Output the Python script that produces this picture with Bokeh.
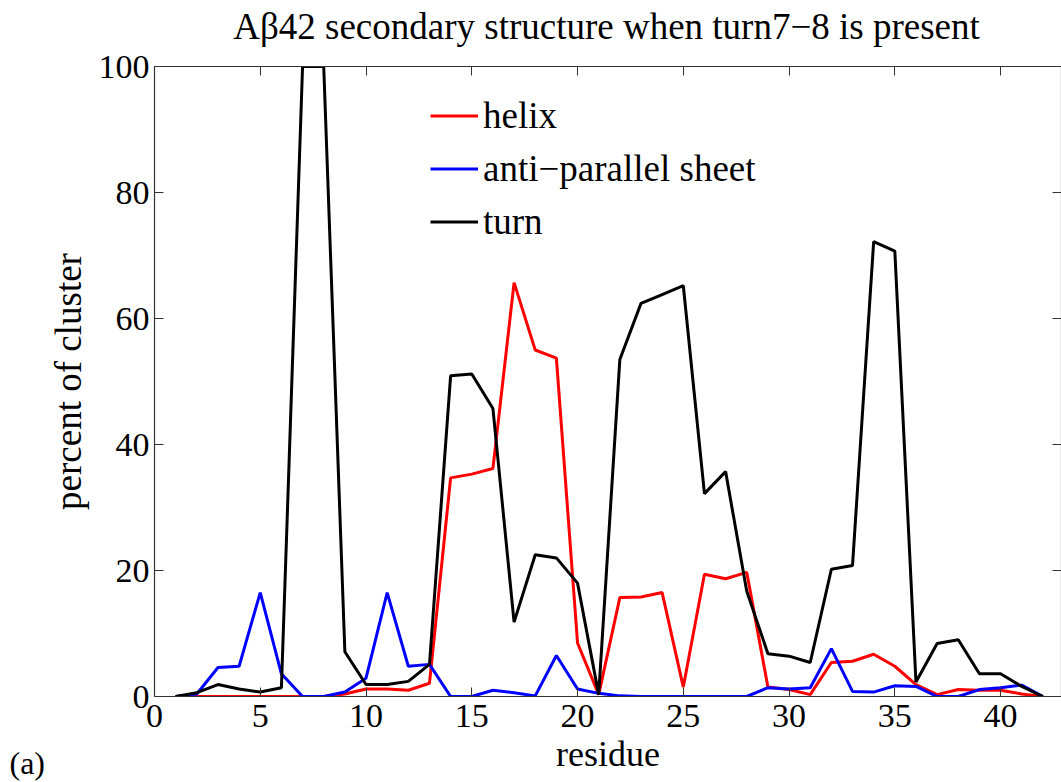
from bokeh.plotting import figure
from bokeh.models import LinearAxis, Legend, LegendItem, Label, Range1d, FixedTicker, CustomLabelingPolicy
from bokeh.embed import file_html
from bokeh.resources import INLINE

residue = list(range(1, 43))
helix = [0, 0, 0, 0, 0, 0, 0, 0, 0.4, 1.2, 1.2, 1.0, 2.1, 34.7, 35.3, 36.2, 65.7, 55.0, 53.7, 8.5,
         0.3, 15.7, 15.8, 16.5, 1.5, 19.4, 18.7, 19.7, 1.5, 1.1, 0.3, 5.4, 5.6, 6.7, 4.8, 1.9,
         0.3, 1.1, 1.0, 1.0, 0.4, 0]
sheet = [0, 0.4, 4.6, 4.8, 16.5, 3.6, 0, 0, 0.7, 2.9, 16.5, 4.8, 5.1, 0, 0, 1.0, 0.6, 0.1, 6.5, 1.2,
         0.5, 0.1, 0, 0, 0, 0, 0, 0, 1.4, 1.2, 1.4, 7.6, 0.8, 0.7, 1.7, 1.6,
         0, 0, 1.1, 1.4, 1.8, 0]
turn = [0, 0.6, 1.9, 1.2, 0.7, 1.4, 100, 100, 7.1, 1.9, 1.9, 2.4, 5.1, 50.9, 51.2, 45.7, 11.8, 22.5, 22.0, 18.0,
        0.3, 53.5, 62.4, 63.8, 65.2, 32.2, 35.7, 16.7, 6.8, 6.4, 5.4, 20.2, 20.8, 72.2, 70.7, 2.3,
        8.4, 9.0, 3.6, 3.6, 1.6, 0]
series_names = ["helix", "anti\u2212parallel sheet", "turn"]
series_colors = ["#ff0000", "#0000ff", "#000000"]
x_ticks = [0, 5, 10, 15, 20, 25, 30, 35, 40]
y_ticks = [0, 20, 40, 60, 80, 100]
title_text = "A\u03b242 secondary structure when turn7\u22128 is present"

FONT = "Liberation Serif"
AX = "#333333"

p = figure(width=1061, height=782, output_backend="svg", toolbar_location=None,
           x_range=Range1d(0, 42.88), y_range=Range1d(0, 100),
           min_border_left=154, min_border_right=0, min_border_top=66, min_border_bottom=86)
p.grid.visible = False
p.outline_line_color = None
p.background_fill_color = "white"
p.border_fill_color = "white"

renderers = []
for ys, c in zip([helix, sheet, turn], series_colors):
    renderers.append(p.line(residue, ys, line_color=c, line_width=3))

for ax in list(p.xaxis) + list(p.yaxis):
    ax.axis_line_color = AX
    ax.axis_line_width = 1.2
    ax.major_tick_line_color = AX
    ax.major_tick_in = 9
    ax.major_tick_out = 0
    ax.minor_tick_line_color = None
    ax.major_label_text_font = FONT
    ax.major_label_text_font_size = "34px"
    ax.major_label_text_color = "black"
    ax.axis_label_text_font = FONT
    ax.axis_label_text_font_size = "36px"
    ax.axis_label_text_font_style = "normal"
    ax.axis_label_text_color = "black"
p.xaxis.ticker = FixedTicker(ticks=x_ticks)
p.yaxis.ticker = FixedTicker(ticks=y_ticks)
p.xaxis.axis_label = "residue"
p.yaxis.axis_label = "percent of cluster"
p.yaxis.axis_label_text_font_size = "37px"
p.xaxis.major_label_standoff = 8
p.xaxis.axis_label_standoff = 4
p.yaxis.major_label_standoff = 5
p.yaxis.axis_label_standoff = 7

hide_all = CustomLabelingPolicy(code="for (const i of indices) indices.unset(i)")
top = LinearAxis(ticker=FixedTicker(ticks=x_ticks))
right = LinearAxis(ticker=FixedTicker(ticks=y_ticks))
for ax in (top, right):
    ax.axis_line_color = AX
    ax.axis_line_width = 1.2
    ax.major_tick_line_color = AX
    ax.major_tick_in = 9
    ax.major_tick_out = 0
    ax.minor_tick_line_color = None
    ax.major_label_text_font_size = "0px"
    ax.major_label_policy = hide_all
    ax.major_label_standoff = 0
    ax.axis_label_standoff = 0
p.add_layout(top, "above")
p.add_layout(right, "right")

legend = Legend(items=[LegendItem(label=n, renderers=[r]) for n, r in zip(series_names, renderers)],
                location=(276, 448), orientation="vertical")
legend.label_text_font = FONT
legend.label_text_font_size = "37px"
legend.label_text_color = "black"
legend.glyph_width = 48
legend.glyph_height = 53
legend.label_height = 53
legend.label_standoff = 5
legend.spacing = 0
legend.padding = 0
legend.margin = 0
legend.border_line_color = None
legend.background_fill_alpha = 0
p.add_layout(legend, "center")

title = Label(x=452, y=40, x_units="screen", y_units="screen", text=title_text,
              text_font=FONT, text_font_size="37px", text_color="black",
              text_align="center", text_baseline="middle")
p.add_layout(title, "above")

tag = Label(x=1, y=-66, x_units="screen", y_units="screen", text="(a)",
            text_font=FONT, text_font_size="32px", text_color="black",
            text_baseline="middle")
p.add_layout(tag, "left")

open("out.html", "w").write(file_html(p, INLINE))
